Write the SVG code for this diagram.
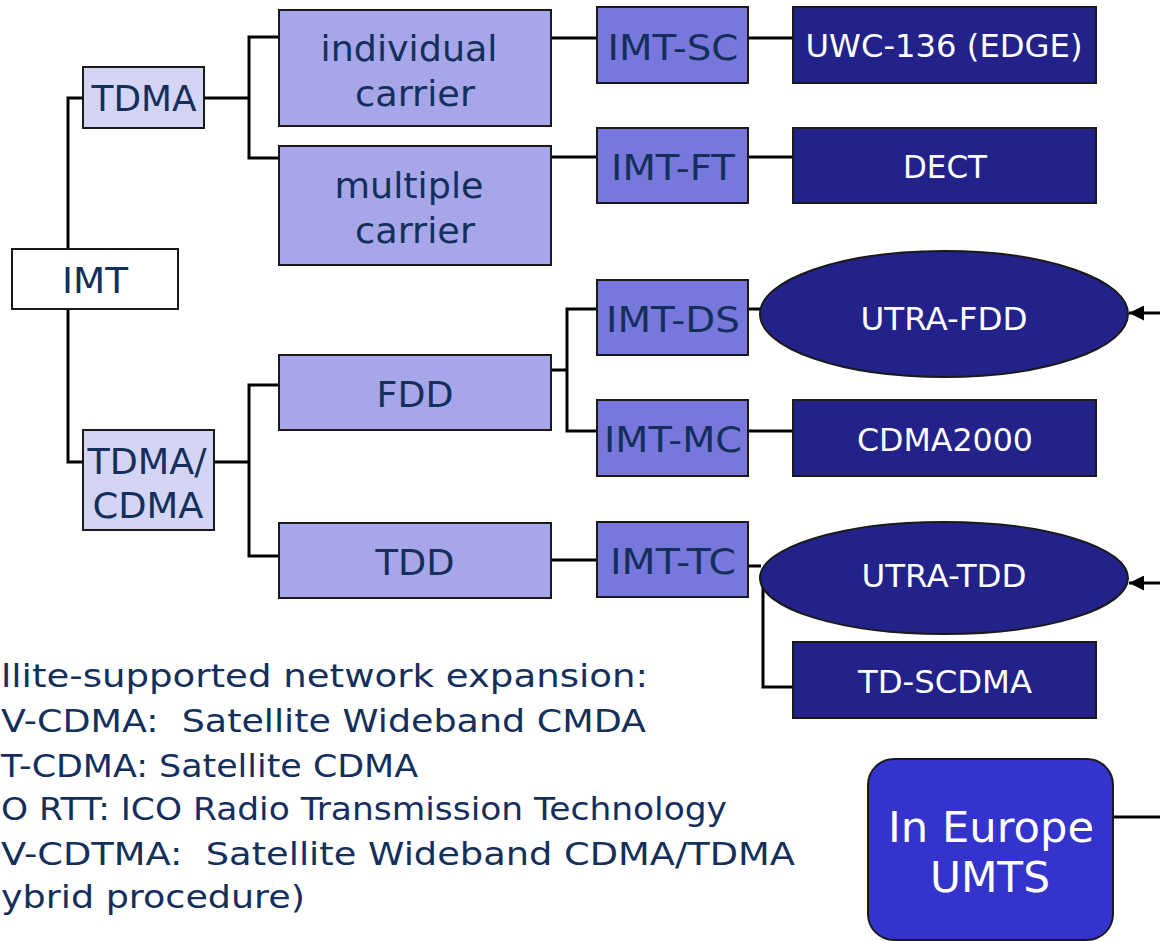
<svg xmlns="http://www.w3.org/2000/svg" width="1160" height="941" viewBox="0 0 1160 941">
<style>
  .box { stroke: #1a1a1a; stroke-width: 2; }
  .l1 { fill: #d4d4f4; }
  .l2 { fill: #a6a6e8; }
  .l3 { fill: #7878dc; }
  .dk { fill: #22228a; }
  .eu { fill: #3434cc; }
  .wh { fill: #ffffff; }
  text { font-family: "DejaVu Sans", Verdana, sans-serif; }
  .t36 { font-size: 36px; fill: #142f5c; text-anchor: middle; }
  .t32 { font-size: 32px; fill: #ffffff; text-anchor: middle; }
  .t42 { font-size: 42px; fill: #ffffff; text-anchor: middle; }
  .note { font-size: 32px; fill: #142f5c; }
  .con { fill: none; stroke: #000; stroke-width: 3; }
  .arr { fill: none; stroke: #000; stroke-width: 3; }
</style>
<defs>
  <marker id="ah" viewBox="0 0 10 10" refX="10" refY="5" markerUnits="userSpaceOnUse" markerWidth="15" markerHeight="15" orient="auto">
    <path d="M0,0 L10,5 L0,10 z" fill="#000"/>
  </marker>
</defs>

<g id="connectors">
  <path class="con" d="M83,98 H68 V249 M68,309 V462 H83"/>
  <path class="con" d="M204,98 H249 M279,37 H249 V158 H279"/>
  <path class="con" d="M551,38 H597 M748,38 H793"/>
  <path class="con" d="M551,157 H597 M748,157 H793"/>
  <path class="con" d="M214,462 H249 M279,385 H249 V556 H279"/>
  <path class="con" d="M551,370 H567 M597,309 H567 V431 H597"/>
  <path class="con" d="M748,309 H761"/>
  <path class="con" d="M748,431 H793"/>
  <path class="con" d="M551,560 H597"/>
  <path class="con" d="M748,566 H761 M763,583 V687 H793"/>
  <path class="con" d="M1113,817 H1160"/>
  <line class="arr" x1="1160" y1="313" x2="1129" y2="313" marker-end="url(#ah)"/>
  <line class="arr" x1="1160" y1="583" x2="1129" y2="583" marker-end="url(#ah)"/>
</g>

<g id="imt">
  <rect class="box wh" x="12" y="249" width="166" height="60"/>
  <text class="t36" x="95" y="293" textLength="66" lengthAdjust="spacingAndGlyphs">IMT</text>
</g>
<g id="tdma">
  <rect class="box l1" x="83" y="67" width="121" height="61"/>
  <text class="t36" x="144" y="111" textLength="105" lengthAdjust="spacingAndGlyphs">TDMA</text>
</g>
<g id="tdma-cdma">
  <rect class="box l1" x="83" y="430" width="131" height="100"/>
  <text class="t36" x="147" y="474" textLength="119" lengthAdjust="spacingAndGlyphs">TDMA/</text>
  <text class="t36" x="148" y="518" textLength="111" lengthAdjust="spacingAndGlyphs">CDMA</text>
</g>
<g id="individual-carrier">
  <rect class="box l2" x="279" y="10" width="272" height="116"/>
  <text class="t36" x="409" y="61" textLength="177" lengthAdjust="spacingAndGlyphs">individual</text>
  <text class="t36" x="415" y="106" textLength="120" lengthAdjust="spacingAndGlyphs">carrier</text>
</g>
<g id="multiple-carrier">
  <rect class="box l2" x="279" y="146" width="272" height="119"/>
  <text class="t36" x="409" y="198" textLength="149" lengthAdjust="spacingAndGlyphs">multiple</text>
  <text class="t36" x="415" y="243" textLength="120" lengthAdjust="spacingAndGlyphs">carrier</text>
</g>
<g id="fdd">
  <rect class="box l2" x="279" y="355" width="272" height="75"/>
  <text class="t36" x="415" y="407" textLength="77" lengthAdjust="spacingAndGlyphs">FDD</text>
</g>
<g id="tdd">
  <rect class="box l2" x="279" y="523" width="272" height="75"/>
  <text class="t36" x="415" y="575" textLength="79" lengthAdjust="spacingAndGlyphs">TDD</text>
</g>
<g id="imt-sc">
  <rect class="box l3" x="597" y="7" width="151" height="76"/>
  <text class="t36" x="673" y="60" textLength="131" lengthAdjust="spacingAndGlyphs">IMT-SC</text>
</g>
<g id="imt-ft">
  <rect class="box l3" x="597" y="128" width="151" height="75"/>
  <text class="t36" x="673" y="180" textLength="124" lengthAdjust="spacingAndGlyphs">IMT-FT</text>
</g>
<g id="imt-ds">
  <rect class="box l3" x="597" y="280" width="151" height="75"/>
  <text class="t36" x="673" y="332" textLength="134" lengthAdjust="spacingAndGlyphs">IMT-DS</text>
</g>
<g id="imt-mc">
  <rect class="box l3" x="597" y="400" width="151" height="76"/>
  <text class="t36" x="673" y="452" textLength="138" lengthAdjust="spacingAndGlyphs">IMT-MC</text>
</g>
<g id="imt-tc">
  <rect class="box l3" x="597" y="522" width="151" height="75"/>
  <text class="t36" x="673" y="574" textLength="126" lengthAdjust="spacingAndGlyphs">IMT-TC</text>
</g>
<g id="uwc-136">
  <rect class="box dk" x="793" y="7" width="303" height="76"/>
  <text class="t32" x="944" y="57" textLength="277" lengthAdjust="spacingAndGlyphs">UWC-136 (EDGE)</text>
</g>
<g id="dect">
  <rect class="box dk" x="793" y="128" width="303" height="75"/>
  <text class="t32" x="945" y="178" textLength="84" lengthAdjust="spacingAndGlyphs">DECT</text>
</g>
<g id="utra-fdd">
  <ellipse class="box dk" cx="944" cy="314" rx="184" ry="63"/>
  <text class="t32" x="944" y="330" textLength="167" lengthAdjust="spacingAndGlyphs">UTRA-FDD</text>
</g>
<g id="cdma2000">
  <rect class="box dk" x="793" y="400" width="303" height="76"/>
  <text class="t32" x="945" y="451" textLength="176" lengthAdjust="spacingAndGlyphs">CDMA2000</text>
</g>
<g id="utra-tdd">
  <ellipse class="box dk" cx="944" cy="578" rx="184" ry="56"/>
  <text class="t32" x="944" y="587" textLength="165" lengthAdjust="spacingAndGlyphs">UTRA-TDD</text>
</g>
<g id="td-scdma">
  <rect class="box dk" x="793" y="642" width="303" height="76"/>
  <text class="t32" x="945" y="693" textLength="174" lengthAdjust="spacingAndGlyphs">TD-SCDMA</text>
</g>
<g id="umts">
  <rect class="box eu" x="868" y="759" width="245" height="181" rx="26" ry="26"/>
  <text class="t42" x="991" y="842" textLength="206" lengthAdjust="spacingAndGlyphs">In Europe</text>
  <text class="t42" x="990" y="892" textLength="120" lengthAdjust="spacingAndGlyphs">UMTS</text>
</g>

<g id="notes">
  <text class="note" x="1" y="687" textLength="647" lengthAdjust="spacingAndGlyphs">llite-supported network expansion:</text>
  <text class="note" x="1" y="732" textLength="645" lengthAdjust="spacingAndGlyphs" xml:space="preserve">V-CDMA:  Satellite Wideband CMDA</text>
  <text class="note" x="1" y="777" textLength="417" lengthAdjust="spacingAndGlyphs">T-CDMA: Satellite CDMA</text>
  <text class="note" x="1" y="820" textLength="726" lengthAdjust="spacingAndGlyphs">O RTT: ICO Radio Transmission Technology</text>
  <text class="note" x="1" y="865" textLength="794" lengthAdjust="spacingAndGlyphs" xml:space="preserve">V-CDTMA:  Satellite Wideband CDMA/TDMA</text>
  <text class="note" x="1" y="908" textLength="304" lengthAdjust="spacingAndGlyphs">ybrid procedure)</text>
</g>
</svg>
